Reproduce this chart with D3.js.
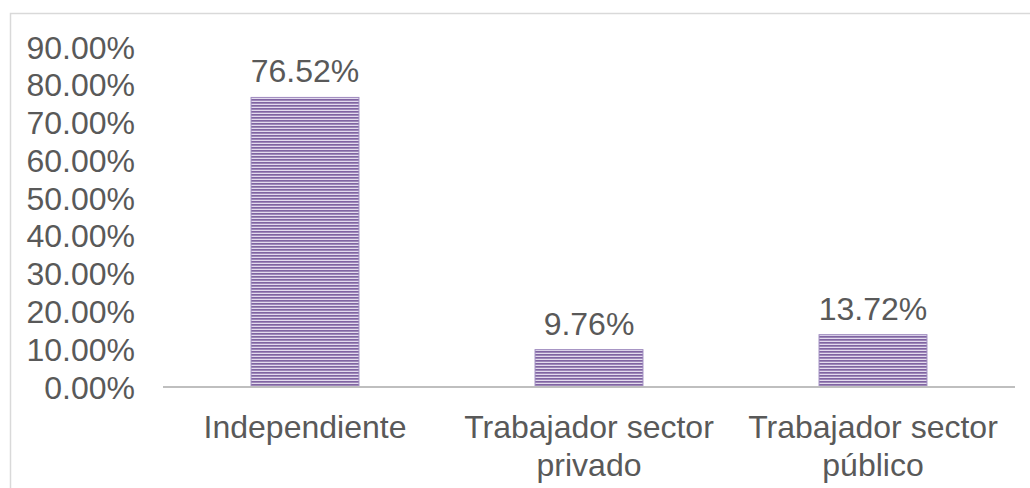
<!DOCTYPE html>
<html lang="en">
<head>
<meta charset="utf-8">
<style>
body {
  margin: 0;
  background: #fff;
  font-family: "Liberation Sans", Arial, Helvetica, sans-serif;
}
.tick text, .lbl, .cat {
  fill: #595959;
}
</style>
</head>
<body>
<script src="https://cdn.jsdelivr.net/npm/d3@7"></script>
<script>

var categories = ["Independiente", "Trabajador sector privado", "Trabajador sector público"];
var catLines = [["Independiente"], ["Trabajador sector", "privado"], ["Trabajador sector", "público"]];
var values = [76.52, 9.76, 13.72];
var yTicks = [0, 10, 20, 30, 40, 50, 60, 70, 80, 90];

var width = 1030,
    height = 488;

var svg = d3.select("body").append("svg")
    .attr("width", width)
    .attr("height", height);

// striped fill for the bars
var defs = svg.append("defs");
var pat = defs.append("pattern")
    .attr("id", "stripes")
    .attr("patternUnits", "userSpaceOnUse")
    .attr("width", 8)
    .attr("height", 3);
pat.append("rect")
    .attr("width", 8).attr("height", 3)
    .attr("fill", "#e3dbee");
pat.append("rect")
    .attr("width", 8).attr("height", 1.7)
    .attr("fill", "#8064a2");

// outer frame
svg.append("path")
    .attr("d", "M10.5," + height + "V13.5H" + width)
    .attr("fill", "none")
    .attr("stroke", "#d9d9d9")
    .attr("stroke-width", 1.5);

var x = d3.scaleBand()
    .domain(categories)
    .range([163, 1015])
    .paddingInner(0.62)
    .paddingOuter(0.31);

var y = d3.scaleLinear()
    .domain([0, 90])
    .range([386.5, 46.5]);

var yAxis = svg.append("g")
    .attr("transform", "translate(135,0)")
    .call(d3.axisLeft(y).tickValues(yTicks).tickSize(0).tickPadding(0)
        .tickFormat(function(d) { return d.toFixed(2) + "%"; }));
yAxis.select(".domain").remove();
yAxis.selectAll("text")
    .attr("font-family", "Liberation Sans, Arial, sans-serif")
    .attr("font-size", 32)
    .attr("dy", "0.36em");

svg.selectAll(".bar")
    .data(values)
    .enter().append("rect")
    .attr("class", "bar")
    .attr("x", function(d, i) { return x(categories[i]); })
    .attr("y", function(d) { return y(d); })
    .attr("width", x.bandwidth())
    .attr("height", function(d) { return y(0) - y(d); })
    .attr("fill", "url(#stripes)")
    .attr("stroke", "#a08cc0")
    .attr("stroke-width", 1);

svg.selectAll(".lbl")
    .data(values)
    .enter().append("text")
    .attr("class", "lbl")
    .attr("x", function(d, i) { return x(categories[i]) + x.bandwidth() / 2; })
    .attr("y", function(d) { return y(d) - 15; })
    .attr("text-anchor", "middle")
    .attr("font-size", 32)
    .attr("fill", "#404040")
    .text(function(d) { return d.toFixed(2) + "%"; });

// x axis line
svg.append("line")
    .attr("x1", x.range()[0])
    .attr("x2", x.range()[1])
    .attr("y1", y(0) + 0.5)
    .attr("y2", y(0) + 0.5)
    .attr("stroke", "#bfbfbf")
    .attr("stroke-width", 2);

var cat = svg.selectAll(".cat")
    .data(categories)
    .enter().append("text")
    .attr("class", "cat")
    .attr("text-anchor", "middle")
    .attr("font-size", 32)
    .attr("x", function(d) { return x(d) + x.bandwidth() / 2; })
    .attr("y", 438);
cat.selectAll("tspan")
    .data(function(d, i) { return catLines[i]; })
    .enter().append("tspan")
    .attr("x", function() { var p = this.parentNode; return p.getAttribute("x"); })
    .attr("dy", function(d, i) { return i === 0 ? 0 : 38; })
    .text(function(d) { return d; });

</script>
</body>
</html>
